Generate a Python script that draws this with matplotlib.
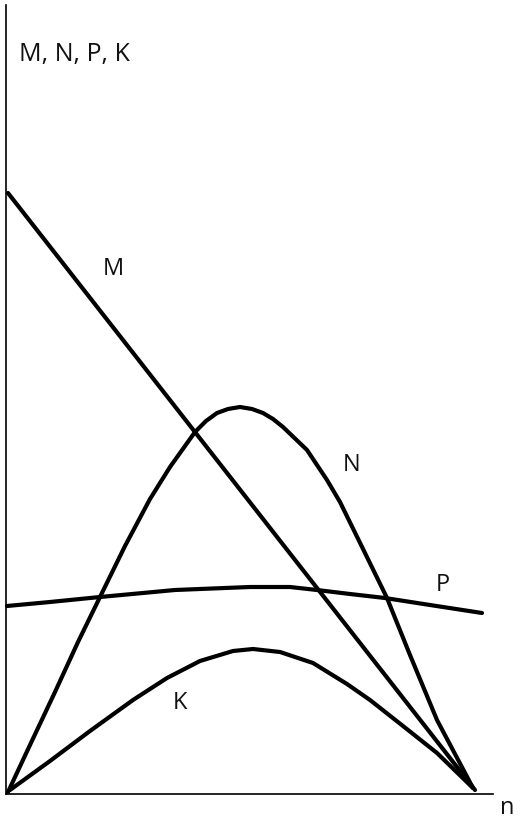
import matplotlib
matplotlib.use("Agg")
import matplotlib.pyplot as plt

# Values (n, value) in pixel-like units from origin
M_n = [2, 469]
M_v = [601, 4]

N_n = [2, 24, 49, 72, 94, 119, 144, 164, 189, 200, 211, 222, 234, 246, 257, 267, 277, 301, 321, 334, 359, 381, 404, 431, 467]
N_v = [2, 49, 102, 152, 197, 248, 295, 327, 362, 373, 381, 385, 387, 385, 381, 375, 367, 344, 314, 292, 241, 196, 139, 74, 6]

P_n = [1, 44, 94, 169, 244, 284, 311, 344, 379, 424, 476]
P_v = [188, 192, 197, 204, 207, 207, 204, 200, 196, 189, 181]

K_n = [4, 44, 84, 127, 161, 194, 227, 247, 274, 307, 341, 364, 397, 431, 467]
K_v = [4, 33, 63, 94, 116, 133, 143, 145, 142, 131, 110, 94, 68, 41, 6]

curve_labels = ["M", "N", "P", "K"]
label_pos_n = [107, 346, 437, 174]
label_pos_v = [525, 329, 209, 91]

y_title = "M, N, P, K"
x_title = "n"

W, H = 520, 821
fig = plt.figure(figsize=(W / 100, H / 100), dpi=100)
left, right, top, bottom = 6, 493, 5, 794
ax = fig.add_axes([left / W, (H - bottom) / H, (right - left) / W, (bottom - top) / H])
ax.set_xlim(0, right - left)
ax.set_ylim(0, bottom - top)
for s in ["top", "right"]:
    ax.spines[s].set_visible(False)
for s in ["left", "bottom"]:
    ax.spines[s].set_linewidth(1.2)
    ax.spines[s].set_color("black")
ax.set_xticks([])
ax.set_yticks([])
ax.patch.set_alpha(0)

for xs, ys in [(M_n, M_v), (N_n, N_v), (P_n, P_v), (K_n, K_v)]:
    ax.plot(xs, ys, color="black", lw=3.0, solid_capstyle="round",
            solid_joinstyle="round", clip_on=False)

font = "Open Sans"
for lab, x, y in zip(curve_labels, label_pos_n, label_pos_v):
    ax.text(x, y, lab, fontsize=17, family=font, color="#111111",
            ha="center", va="center")

fig.text(19 / W, 1 - 54 / H, y_title, fontsize=18, family=font,
         color="#111111", ha="left", va="center")
fig.text(507 / W, 1 - 808 / H, x_title, fontsize=17, family=font,
         color="#111111", ha="center", va="center")

fig.savefig("out.png", dpi=100, facecolor="white")
